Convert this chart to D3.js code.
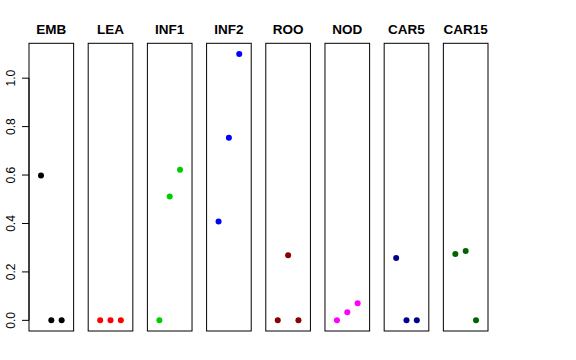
<!DOCTYPE html>
<html>
<head>
<meta charset="utf-8">
<script src="https://cdn.jsdelivr.net/npm/d3@7"></script>
<style>
  body { margin: 0; background: #fff; }
  text { font-family: "Liberation Sans", Arial, sans-serif; }
</style>
</head>
<body>
<script>
// panel names and colours, one panel per tissue
const tissues = ["EMB", "LEA", "INF1", "INF2", "ROO", "NOD", "CAR5", "CAR15"];
const colors = ["#000000", "#ff0000", "#00cd00", "#0000ff", "#8b0000", "#ff00ff", "#00008b", "#006400"];

// three values per panel, drawn at x = 1, 2, 3
const positions = [1, 2, 3];
const values = [
  [0.598, 0, 0],
  [0, 0, 0],
  [0, 0.511, 0.622],
  [0.408, 0.754, 1.1],
  [0, 0.269, 0],
  [0, 0.033, 0.071],
  [0.257, 0, 0],
  [0.274, 0.286, 0]
];
const yTicks = [0, 0.2, 0.4, 0.6, 0.8, 1.0];

const width = 576, height = 360;
const plotTop = 43.3, plotBottom = 331;

const svg = d3.select("body").append("svg")
    .attr("width", width)
    .attr("height", height);

// panels laid out side by side
const panel = d3.scaleBand()
    .domain(tissues)
    .range([29, 488])
    .paddingInner(0.246)
    .paddingOuter(0);

// R-style limits: data range padded by 4%
const y = d3.scaleLinear()
    .domain([-0.044, 1.144])
    .range([plotBottom, plotTop]);

tissues.forEach((name, i) => {
  const left = panel(name), w = panel.bandwidth();
  const x = d3.scaleLinear().domain([-0.16, 4.16]).range([left, left + w]);
  const g = svg.append("g");

  g.append("rect")
    .attr("x", left)
    .attr("y", plotTop)
    .attr("width", w)
    .attr("height", plotBottom - plotTop)
    .attr("fill", "none")
    .attr("stroke", "#000")
    .attr("stroke-width", 1);

  g.append("text")
    .attr("x", left + w / 2)
    .attr("y", 34)
    .attr("text-anchor", "middle")
    .style("font-size", "13.5px")
    .style("font-weight", "bold")
    .text(name);

  g.selectAll("circle")
    .data(values[i])
    .enter().append("circle")
      .attr("cx", (d, j) => x(positions[j]))
      .attr("cy", d => y(d))
      .attr("r", 3)
      .attr("fill", colors[i]);
});

// y axis on the first panel, labels rotated like R's default
const axisX = panel(tissues[0]);
const axis = svg.append("g")
    .attr("transform", "translate(" + axisX + ",0)")
    .call(d3.axisLeft(y).tickValues(yTicks).tickSize(7).tickFormat(d3.format(".1f")));
axis.select(".domain").attr("d", "M0," + y(0) + "V" + y(1));
axis.selectAll("line").attr("stroke", "#000");
axis.selectAll(".tick").attr("transform", null);
axis.selectAll(".tick line").attr("y1", d => y(d)).attr("y2", d => y(d));
axis.selectAll("text")
    .attr("x", null)
    .attr("dy", null)
    .attr("text-anchor", "middle")
    .attr("transform", d => "translate(" + (14.5 - axisX) + "," + y(d) + ") rotate(-90)")
    .attr("y", 0)
    .style("font-size", "12px")
    .attr("fill", "#000");
</script>
</body>
</html>
